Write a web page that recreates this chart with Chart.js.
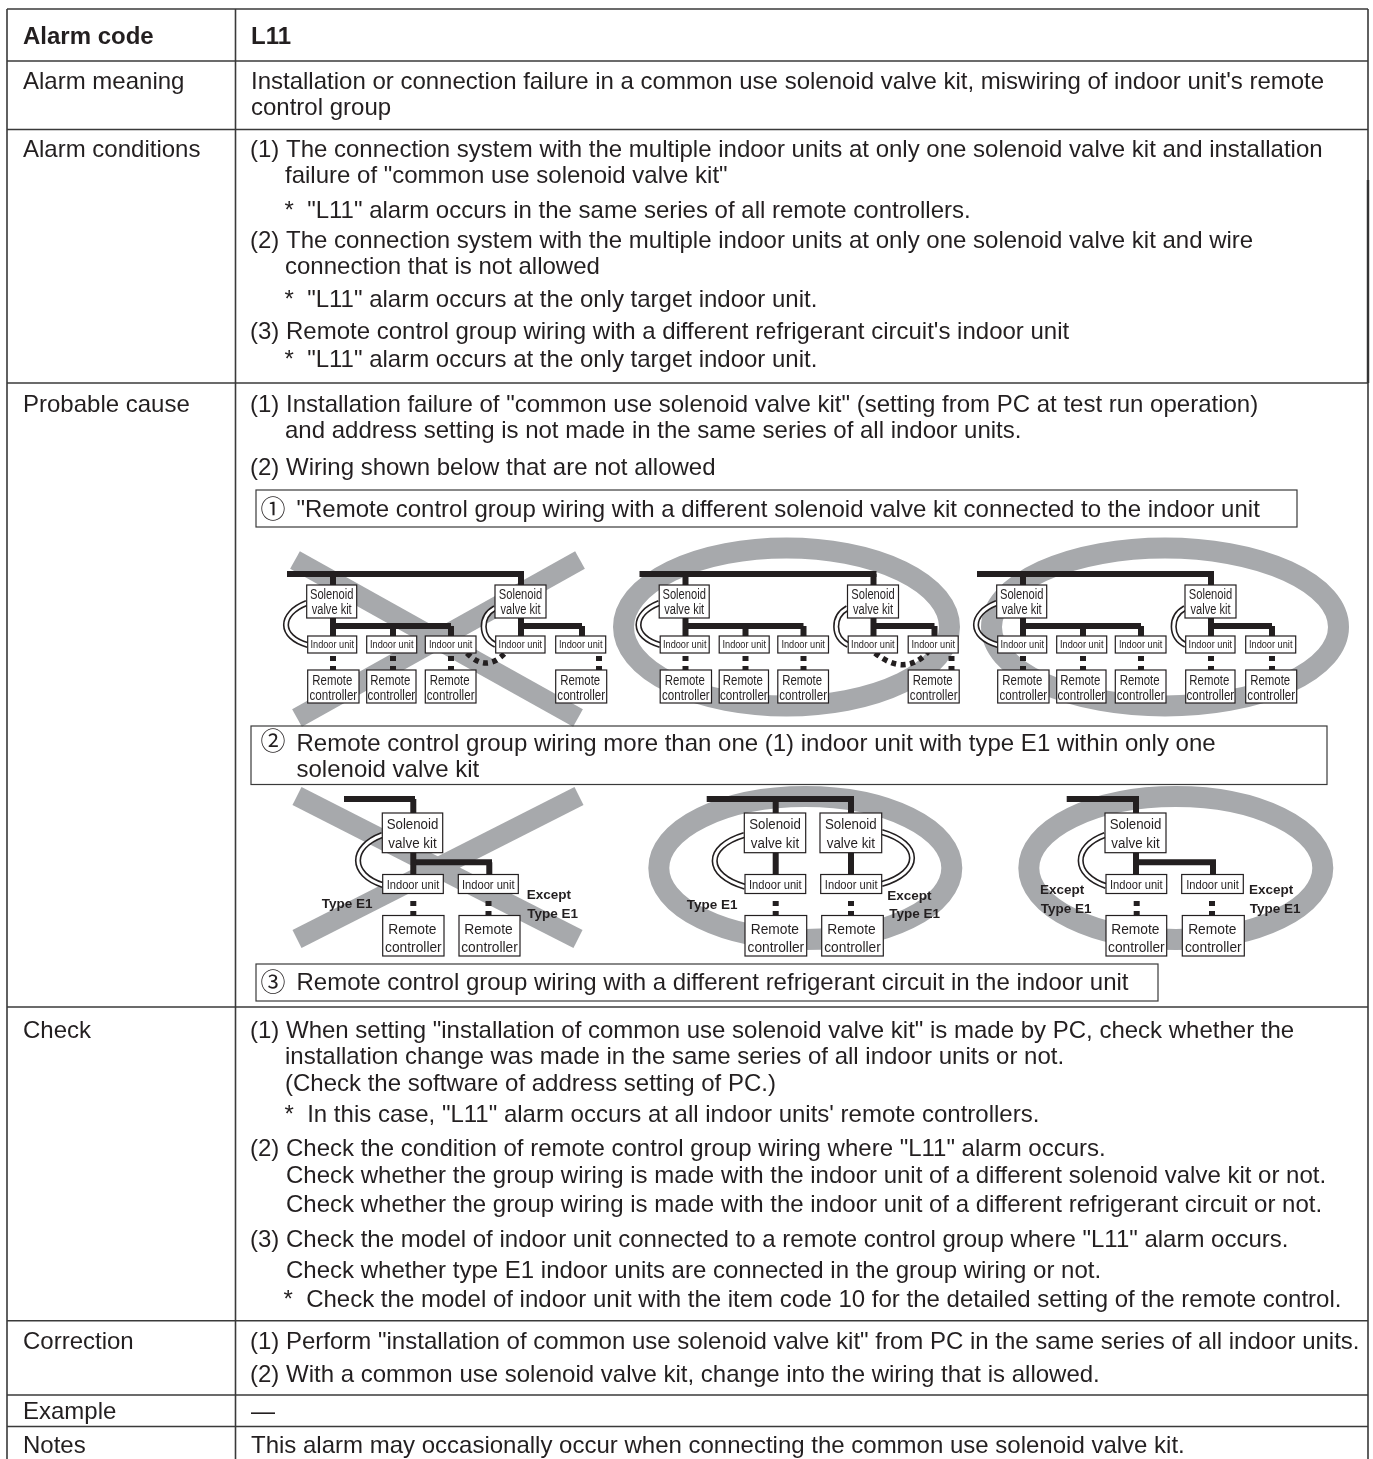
<!DOCTYPE html>
<html>
<head>
<meta charset="utf-8">
<title>Alarm code L11</title>
<script src="https://cdn.jsdelivr.net/npm/chart.js@4/dist/chart.umd.min.js"></script>
<style>
  html, body { margin: 0; padding: 0; background: #fff; }
  canvas { display: block; }
</style>
</head>
<body>
<canvas id="sheet" width="1373" height="1459"></canvas>
<script>
// table text
var rowLabels = ["Alarm code", "Alarm meaning", "Alarm conditions", "Probable cause", "Check", "Correction", "Example", "Notes"];
var rowLabelY = [44, 88.5, 156.7, 412.3, 1037.7, 1349, 1419, 1453];

var bodyText = [
    "L11",
    "Installation or connection failure in a common use solenoid valve kit, miswiring of indoor unit's remote",
    "control group",
    "(1) The connection system with the multiple indoor units at only one solenoid valve kit and installation",
    "failure of \"common use solenoid valve kit\"",
    "*  \"L11\" alarm occurs in the same series of all remote controllers.",
    "(2) The connection system with the multiple indoor units at only one solenoid valve kit and wire",
    "connection that is not allowed",
    "*  \"L11\" alarm occurs at the only target indoor unit.",
    "(3) Remote control group wiring with a different refrigerant circuit's indoor unit",
    "*  \"L11\" alarm occurs at the only target indoor unit.",
    "(1) Installation failure of \"common use solenoid valve kit\" (setting from PC at test run operation)",
    "and address setting is not made in the same series of all indoor units.",
    "(2) Wiring shown below that are not allowed",
    "(1) When setting \"installation of common use solenoid valve kit\" is made by PC, check whether the",
    "installation change was made in the same series of all indoor units or not.",
    "(Check the software of address setting of PC.)",
    "*  In this case, \"L11\" alarm occurs at all indoor units' remote controllers.",
    "(2) Check the condition of remote control group wiring where \"L11\" alarm occurs.",
    "Check whether the group wiring is made with the indoor unit of a different solenoid valve kit or not.",
    "Check whether the group wiring is made with the indoor unit of a different refrigerant circuit or not.",
    "(3) Check the model of indoor unit connected to a remote control group where \"L11\" alarm occurs.",
    "Check whether type E1 indoor units are connected in the group wiring or not.",
    "*  Check the model of indoor unit with the item code 10 for the detailed setting of the remote control.",
    "(1) Perform \"installation of common use solenoid valve kit\" from PC in the same series of all indoor units.",
    "(2) With a common use solenoid valve kit, change into the wiring that is allowed.",
    "\u2014",
    "This alarm may occasionally occur when connecting the common use solenoid valve kit."
];
var bodyX = [251, 251, 251, 250, 285, 284.5, 250, 285, 284.5, 250, 284.5, 250, 285, 250, 250, 285, 285, 284.5, 250, 286, 286, 250, 286, 283.5, 250, 250, 251, 251];
var bodyY = [44, 88.5, 115, 156.7, 183.3, 217.7, 248.3, 274.3, 306.7, 339.3, 367.3, 412.3, 438.3, 474.5, 1037.7, 1064, 1090.7, 1122.3, 1155.7, 1183.3, 1212.3, 1247.3, 1278.3, 1307.3, 1349, 1381.7, 1419, 1453.3];

var noteText = [
    "\"Remote control group wiring with a different solenoid valve kit connected to the indoor unit",
    "Remote control group wiring more than one (1) indoor unit with type E1 within only one",
    "solenoid valve kit",
    "Remote control group wiring with a different refrigerant circuit in the indoor unit"
];
var noteX = [296.5, 296.5, 296.5, 296.5];
var noteY = [516.7, 751.3, 777, 990];
var noteDigits = ["\u2460", "\u2461", "\u2462"];
var noteDigitX = [260.5, 260.5, 260.5];
var noteDigitY = [517.5, 750.2, 990.5];
var noteBoxes = [[256, 490, 1297, 527], [251, 726, 1327, 784.5], [256, 964, 1158, 1001]];

// table rules
var rowRuleY = [9, 61, 129.5, 383, 1007, 1320.7, 1395, 1426.5];
var columnRuleX = [7, 235.5, 1368];

// upper row of wiring diagrams
var upperOffsets = [0, 352.5, 690];
var upperCross = [[295, 560, 578, 718], [580, 560, 297, 718]];
var upperRings = [[786.5, 627, 163, 79], [1165, 627, 173.5, 79]];
var upperBus = [[287, 574, 524, 574], [333, 574, 333, 586], [521, 574, 521, 586],
    [333, 618, 333, 636], [333, 626, 451, 626], [393, 626, 393, 636], [451, 626, 451, 636],
    [521, 618, 521, 636], [521, 626, 582, 626], [582, 626, 582, 636]];
var upperKits = [[306.7, 356.7], [495, 546]];
var upperUnits = [[307.7, 356.7], [366.7, 416.7], [425.3, 476], [495.7, 545], [555.7, 605.7]];
var upperRemotes = [[[307.7, 359], [366.7, 416], [425.3, 476], [555.7, 606.7]],
    [[307.7, 359], [366.7, 416], [425.3, 476], [555.7, 606.7]],
    [[307.7, 359], [366.7, 416], [425.3, 476], [495.7, 545], [555.7, 606.7]]];
var upperDropX = [[333, 393, 451, 599], [333, 393, 451, 599], [333, 393, 451, 521, 582]];
var upperLoops = [[306.7, 603, 286, 627, 307.7, 645], [495, 608, 483.7, 627, 495.7, 645]];
var upperDotted = [[467, 653, 486, 663, 505, 653], [875, 653, 905, 665, 928, 652]];

// lower row of wiring diagrams
var lowerCross = [[297, 796, 578, 939], [579, 796, 297, 939]];
var lowerRings = [[805.3, 868, 146.5, 71.5], [1175.8, 868, 147, 71.5]];
var lowerWires = [[344, 799, 415, 799], [413.3, 799, 413.3, 814], [413.3, 852, 413.3, 875], [413.3, 862.3, 492, 862.3], [489.3, 862.3, 489.3, 875],
    [706.7, 799, 854, 799], [775.7, 799, 775.7, 813], [851, 799, 851, 813], [775.7, 852, 775.7, 875], [851, 852, 851, 875],
    [1066.7, 799, 1139, 799], [1136, 799, 1136, 813], [1136, 852, 1136, 875], [1136, 862.3, 1216, 862.3], [1213, 862.3, 1213, 875]];
var lowerKits = [[382.3, 442.7], [744.3, 805.7], [820, 881.7], [1105, 1166]];
var lowerUnits = [[382.7, 443.3], [458.3, 518.3], [745, 805.7], [820.7, 881.7], [1106, 1166.7], [1181.7, 1243.3]];
var lowerRemotes = [[382.7, 444], [459, 520], [745, 806.7], [821.7, 883.3], [1106, 1166.7], [1182.3, 1244.3]];
var lowerDropX = [413.3, 488.5, 775.7, 851, 1136.7, 1212];
var lowerLoops = [[382.3, 835, 358, 861.7, 382.7, 885], [744.3, 835, 714.7, 861, 745, 886.7], [881.7, 832, 912, 858, 881.7, 884], [1105, 835, 1080.7, 861, 1106, 886]];
var typeLabels = ["Type E1", "Except", "Type E1", "Type E1", "Except", "Type E1", "Except", "Type E1", "Except", "Type E1"];
var typeX = [321.7, 526.7, 527.3, 686.7, 887.3, 889.3, 1040, 1040.7, 1249, 1249.7];
var typeY = [908, 899, 917.7, 909, 900, 918.3, 894.3, 912.7, 894.3, 912.7];

var INK = "#231f20";
var RULE = "#3a3a3a";
var GREY = "#a7a9ac";
var BODY_FONT = '"Liberation Sans", Arial, sans-serif';

function lineSet(coords, color, width, order) {
    return {
        type: "scatter",
        showLine: true,
        data: [{ x: coords[0], y: coords[1] }, { x: coords[2], y: coords[3] }],
        borderColor: color,
        borderWidth: width,
        pointRadius: 0,
        order: order,
        fill: false,
        tension: 0
    };
}

var datasets = [];
rowRuleY.forEach(function (y) {
    datasets.push(lineSet([7, y, 1368, y], RULE, 1.6, 1));
});
columnRuleX.forEach(function (x) {
    datasets.push(lineSet([x, 9, x, 1459], RULE, 1.6, 1));
});
datasets.push(lineSet([1368, 180, 1368, 383], INK, 2.4, 1));
upperCross.concat(lowerCross).forEach(function (c) {
    datasets.push(lineSet(c, GREY, 20, 3));
});
upperOffsets.forEach(function (dx) {
    upperBus.forEach(function (s) {
        datasets.push(lineSet([s[0] + dx, s[1], s[2] + dx, s[3]], INK, 6, 2));
    });
});
lowerWires.forEach(function (s) {
    datasets.push(lineSet(s, INK, 6, 2));
});
upperDropX.forEach(function (xs, g) {
    xs.forEach(function (x) {
        var dx = upperOffsets[g];
        datasets.push(lineSet([x + dx, 656, x + dx, 661], INK, 6, 2));
        datasets.push(lineSet([x + dx, 666, x + dx, 670], INK, 6, 2));
    });
});
lowerDropX.forEach(function (x) {
    datasets.push(lineSet([x, 901, x, 906], INK, 6, 2));
    datasets.push(lineSet([x, 911, x, 916], INK, 6, 2));
});

var sheetPlugin = {
    id: "sheetPlugin",
    beforeDatasetsDraw: function (chart) {
        var ctx = chart.ctx, sx = chart.scales.x, sy = chart.scales.y;
        ctx.save();
        ctx.strokeStyle = GREY;
        ctx.lineWidth = 21;
        upperRings.concat(lowerRings).forEach(function (r) {
            ctx.beginPath();
            ctx.ellipse(sx.getPixelForValue(r[0]), sy.getPixelForValue(r[1]), r[2], r[3], 0, 0, Math.PI * 2);
            ctx.stroke();
        });
        ctx.restore();
    },
    afterDatasetsDraw: function (chart) {
        var ctx = chart.ctx, sx = chart.scales.x, sy = chart.scales.y;
        var px = function (v) { return sx.getPixelForValue(v); };
        var py = function (v) { return sy.getPixelForValue(v); };

        function loop(l, dx) {
            // black then white stroke gives the double wire
            var bow = l[2] + (l[2] - (l[0] + l[4]) / 2) / 3;
            [[INK, 6.2], ["#fff", 3]].forEach(function (st) {
                ctx.beginPath();
                ctx.strokeStyle = st[0];
                ctx.lineWidth = st[1];
                ctx.moveTo(px(l[0] + dx), py(l[1]));
                ctx.bezierCurveTo(px(bow + dx), py(l[1] + (l[3] - l[1]) * 0.45), px(bow + dx), py(l[3] + (l[5] - l[3]) * 0.55), px(l[4] + dx), py(l[5]));
                ctx.stroke();
            });
        }
        function box(x0, y0, x1, y1, border) {
            ctx.fillStyle = "#fff";
            ctx.strokeStyle = border;
            ctx.lineWidth = 1.2;
            ctx.fillRect(px(x0), py(y0), px(x1) - px(x0), py(y1) - py(y0));
            ctx.strokeRect(px(x0), py(y0), px(x1) - px(x0), py(y1) - py(y0));
        }
        function label(text, x, y, font, align, fit) {
            ctx.font = font;
            ctx.textAlign = align || "left";
            ctx.fillStyle = INK;
            ctx.textBaseline = "alphabetic";
            if (fit) {
                ctx.fillText(text, px(x), py(y), fit);
            } else {
                ctx.fillText(text, px(x), py(y));
            }
        }
        // the small box text in the reference is a condensed face, so it is squeezed to width
        function kit(p, y0, y1, size, base1, base2, w1, w2) {
            box(p[0], y0, p[1], y1, INK);
            var mid = (p[0] + p[1]) / 2;
            label("Solenoid", mid, base1, size + "px " + BODY_FONT, "center", w1);
            label("valve kit", mid, base2, size + "px " + BODY_FONT, "center", w2);
        }
        function unit(p, y0, y1, size, base, w) {
            box(p[0], y0, p[1], y1, INK);
            label("Indoor unit", (p[0] + p[1]) / 2, base, size + "px " + BODY_FONT, "center", w);
        }
        function remote(p, y0, y1, size, base1, base2, w1, w2) {
            box(p[0], y0, p[1], y1, INK);
            var mid = (p[0] + p[1]) / 2;
            label("Remote", mid - 1, base1, size + "px " + BODY_FONT, "center", w1);
            label("controller", mid, base2, size + "px " + BODY_FONT, "center", w2);
        }

        ctx.save();
        // upper diagrams
        upperOffsets.forEach(function (dx) {
            upperLoops.forEach(function (l) { loop(l, dx); });
        });
        upperDotted.forEach(function (d) {
            ctx.beginPath();
            ctx.strokeStyle = INK;
            ctx.lineWidth = 5.5;
            ctx.setLineDash([5, 4.5]);
            ctx.moveTo(px(d[0]), py(d[1]));
            ctx.quadraticCurveTo(px(d[2]), py(d[3] + (d[3] - d[1])), px(d[4]), py(d[5]));
            ctx.stroke();
            ctx.setLineDash([]);
        });
        upperOffsets.forEach(function (dx, g) {
            upperKits.forEach(function (p) {
                kit([p[0] + dx, p[1] + dx], 585, 618, 14, 599.3, 614.3, 43.5, 40);
            });
            upperUnits.forEach(function (p) {
                unit([p[0] + dx, p[1] + dx], 636, 653, 11.6, 648.3, 43.5);
            });
            upperRemotes[g].forEach(function (p) {
                remote([p[0] + dx, p[1] + dx], 670, 703, 14, 685, 700.3, 40, 47.7);
            });
        });
        // lower diagrams
        lowerLoops.forEach(function (l) { loop(l, 0); });
        lowerKits.forEach(function (p) { kit(p, 813, 852.7, 15.4, 829.3, 847.7, 51.7, 48.3); });
        lowerUnits.forEach(function (p) { unit(p, 874.5, 893.5, 13.5, 889, 52.7); });
        lowerRemotes.forEach(function (p) { remote(p, 915.5, 956, 15, 934, 951.7, 48.3, 56.7); });
        typeLabels.forEach(function (t, i) {
            label(t, typeX[i], typeY[i], "bold 13.5px " + BODY_FONT);
        });
        // note boxes
        noteBoxes.forEach(function (b) {
            ctx.strokeStyle = RULE;
            ctx.lineWidth = 1.2;
            ctx.strokeRect(px(b[0]), py(b[1]), px(b[2]) - px(b[0]), py(b[3]) - py(b[1]));
        });
        // table text
        var bodyFont = "24px " + BODY_FONT;
        rowLabels.forEach(function (t, i) {
            label(t, 23, rowLabelY[i], (i === 0 ? "bold " : "") + bodyFont);
        });
        bodyText.forEach(function (t, i) {
            label(t, bodyX[i], bodyY[i], (i === 0 ? "bold " : "") + bodyFont);
        });
        noteText.forEach(function (t, i) {
            label(t, noteX[i], noteY[i], bodyFont);
        });
        noteDigits.forEach(function (t, i) {
            label(t, noteDigitX[i], noteDigitY[i], '25px "Noto Sans CJK JP", sans-serif');
        });
        ctx.restore();
    }
};

new Chart(document.getElementById("sheet"), {
    type: "scatter",
    data: { datasets: datasets },
    plugins: [sheetPlugin],
    options: {
        responsive: false,
        animation: false,
        layout: { padding: 0 },
        plugins: { legend: { display: false }, tooltip: { enabled: false } },
        elements: { line: { borderCapStyle: "butt" } },
        scales: {
            x: { type: "linear", min: 0, max: 1373, display: false },
            y: { type: "linear", min: 0, max: 1459, reverse: true, display: false }
        }
    }
});
</script>
</body>
</html>
